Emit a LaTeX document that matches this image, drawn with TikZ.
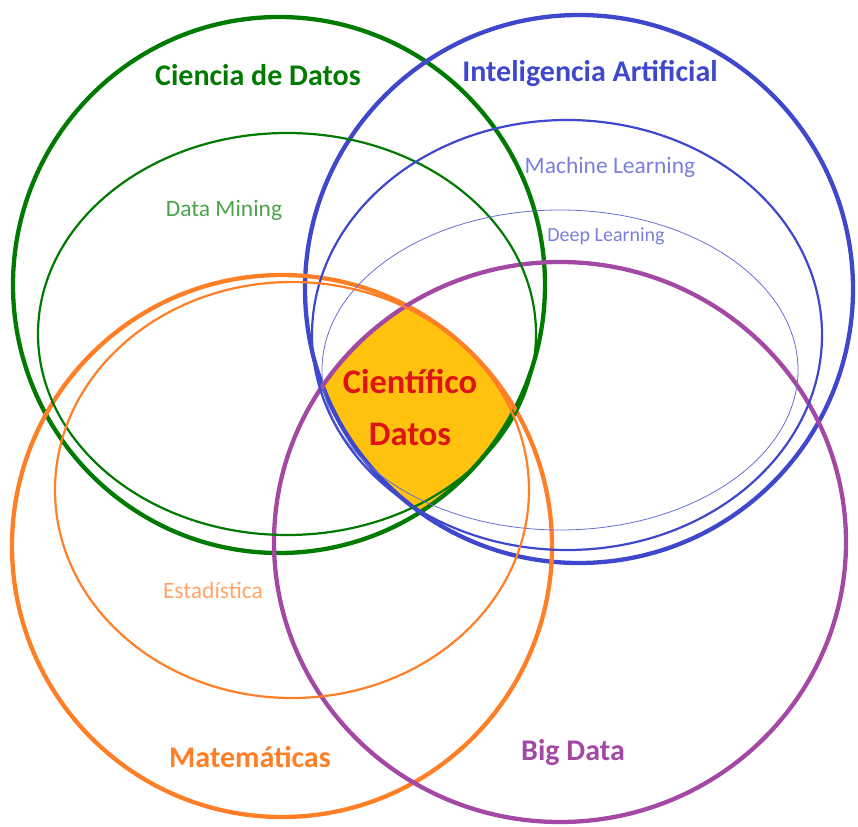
\documentclass[tikz,border=0pt]{standalone}
\usepackage{fontspec}
\setmainfont{Carlito}

\definecolor{cdgreen}{RGB}{0,122,0}
\definecolor{iablue}{RGB}{63,72,204}
\definecolor{matorange}{RGB}{255,127,39}
\definecolor{bdpurple}{RGB}{163,73,164}
\definecolor{cdgold}{RGB}{255,194,14}
\definecolor{cdred}{RGB}{220,20,20}

\tikzset{
  area/.style={line width=4.3pt},
  subarea/.style={line width=2.2pt},
  title/.style={font=\fontsize{30}{36}\bfseries\selectfont},
  sublabel/.style={font=\fontsize{23.5}{28}\selectfont}
}

\begin{document}
\begin{tikzpicture}[x=1pt,y=-1pt]
  \useasboundingbox (0,0) rectangle (858,826);

  % common part of the four big areas
  \begin{scope}
    \clip (279,285) ellipse [x radius=266, y radius=268];
    \clip (579,289) ellipse [x radius=274, y radius=274];
    \clip (282,546) ellipse [x radius=270, y radius=271];
    \fill[cdgold] (560,542) ellipse [x radius=286, y radius=280];
  \end{scope}

  % big areas
  \draw[area, cdgreen]   (279,285) ellipse [x radius=266, y radius=268];
  \draw[area, iablue]    (579,289) ellipse [x radius=274, y radius=274];
  \draw[area, matorange] (282,546) ellipse [x radius=270, y radius=271];
  \draw[area, bdpurple]  (560,542) ellipse [x radius=286, y radius=280];

  % sub areas
  \draw[subarea, cdgreen]   (287,334) ellipse [x radius=249, y radius=201];
  \draw[subarea, iablue]    (567,335) ellipse [x radius=255, y radius=215];
  \draw[line width=0.8pt, iablue!80] (560,370) ellipse [x radius=238, y radius=160];
  \draw[subarea, matorange] (292,490) ellipse [x radius=237, y radius=208];

  \begin{scope}[every node/.style={title}]
    \node[text=cdgreen]   (ciencia) at (258,75)  {Ciencia de Datos};
    \node[text=iablue]    (ia)      at (590,73)  {Inteligencia Artificial};
    \node[text=matorange] (mate)    at (250,757) {Matemáticas};
    \node[text=bdpurple]  (bigdata) at (573,753) {Big Data};
  \end{scope}

  \begin{scope}[every node/.style={sublabel}]
    \node[text=cdgreen!70]   (mining) at (224,210) {Data Mining};
    \node[text=iablue!70]    (ml)     at (610,167) {Machine Learning};
    \node[text=iablue!70, font=\fontsize{20}{24}\selectfont] (dl) at (606,236) {Deep Learning};
    \node[text=matorange!70] (estad)  at (213,590) {Estadística};
  \end{scope}

  \node[title, text=cdred, font=\fontsize{34.5}{40}\bfseries\selectfont,
        align=center] (cientifico) at (410,407) {Científico\\[12pt]Datos};
\end{tikzpicture}
\end{document}
